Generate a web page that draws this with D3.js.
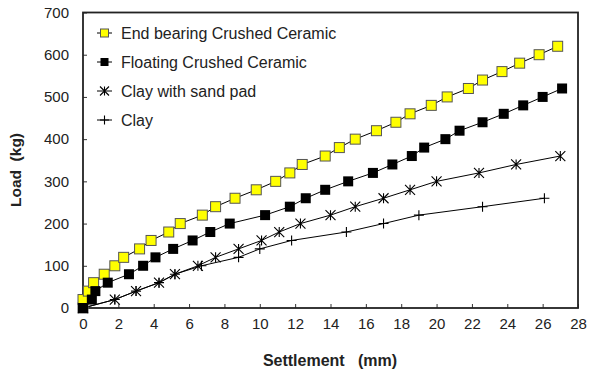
<!DOCTYPE html>
<html><head><meta charset="utf-8">
<script src="https://cdn.jsdelivr.net/npm/d3@7"></script>
<style>body{margin:0;background:#fff}svg{display:block}text{font-family:"Liberation Sans",Arial,sans-serif}</style>
</head><body><svg id="c" width="590" height="376"></svg>
<script>
const seriesNames = ["End bearing Crushed Ceramic","Floating Crushed Ceramic","Clay with sand pad","Clay"];
const endBearingX = [0,0,0.3,0.6,1.2,1.8,2.3,3.2,3.85,4.85,5.5,6.75,7.5,8.6,9.8,10.9,11.7,12.4,13.7,14.5,15.4,16.6,17.7,18.5,19.7,20.6,21.8,22.6,23.7,24.7,25.8,26.85];
const endBearingY = [0,20,40,60,80,100,120,140,160,180,200,220,240,260,280,300,320,340,360,380,400,420,440,460,480,500,520,540,560,580,600,620];
const floatingX = [0,0.5,0.7,1.4,2.6,3.4,4.1,5.1,6.2,7.2,8.3,10.3,11.7,12.6,13.7,15,16.4,17.5,18.6,19.3,20.5,21.3,22.6,23.8,24.9,26,27.1];
const floatingY = [0,20,40,60,80,100,120,140,160,180,200,220,240,260,280,300,320,340,360,380,400,420,440,460,480,500,520];
const sandPadX = [0,1.8,3,4.3,5.2,6.5,7.5,8.8,10.1,11.1,12.3,14,15.4,17,18.5,20,22.4,24.5,27];
const sandPadY = [0,20,40,60,80,100,120,140,160,180,200,220,240,260,280,300,320,340,360];
const clayX = [0,1.8,3,4.3,5.2,6.7,8.8,10,11.8,14.9,17,19,22.6,26.1];
const clayY = [0,20,40,60,80,100,120,140,160,180,200,220,240,260];
const xTicks = [0,2,4,6,8,10,12,14,16,18,20,22,24,26,28];
const yTicks = [0,100,200,300,400,500,600,700];

const svg = d3.select("#c");
const L=83,R=578,T=12.5,B=308;
const x = d3.scaleLinear().domain([0,28]).range([L,R]);
const y = d3.scaleLinear().domain([0,700]).range([B,T]);

svg.append("g").attr("transform",`translate(0,${B})`)
  .call(d3.axisBottom(x).tickValues(xTicks).tickSizeInner(-4).tickSizeOuter(0).tickPadding(10))
  .call(g=>{g.select(".domain").remove();g.selectAll("line").attr("stroke","#333");
    g.selectAll("text").attr("font-size",15).attr("fill","#222").attr("font-family","Liberation Sans, Arial");});
svg.append("g").attr("transform",`translate(${L},0)`)
  .call(d3.axisLeft(y).tickValues(yTicks).tickSizeInner(-4).tickSizeOuter(0).tickPadding(14))
  .call(g=>{g.select(".domain").remove();g.selectAll("line").attr("stroke","#333");
    g.selectAll("text").attr("font-size",15).attr("fill","#222").attr("font-family","Liberation Sans, Arial");});

svg.append("rect").attr("x",L).attr("y",T).attr("width",R-L).attr("height",B-T)
  .attr("fill","none").attr("stroke","#222").attr("stroke-width",1.8);

const line = d3.line().x(d=>x(d[0])).y(d=>y(d[1]));
const data = [
  d3.zip(endBearingX,endBearingY),
  d3.zip(floatingX,floatingY),
  d3.zip(sandPadX,sandPadY),
  d3.zip(clayX,clayY)
];

function marker(g,type,cx,cy,s){
  if(type===0){g.append("rect").attr("x",cx-s/2).attr("y",cy-s/2).attr("width",s).attr("height",s).attr("fill","#ffff00").attr("stroke","#555").attr("stroke-width",1);}
  else if(type===1){g.append("rect").attr("x",cx-s/2).attr("y",cy-s/2).attr("width",s).attr("height",s).attr("fill","#000");}
  else if(type===2){const h=s/2;
    g.append("path").attr("d",`M${cx-h},${cy-h}L${cx+h},${cy+h}M${cx-h},${cy+h}L${cx+h},${cy-h}M${cx},${cy-h}L${cx},${cy+h}`).attr("stroke","#000").attr("stroke-width",1.1).attr("fill","none");}
  else {const h=s/2;
    g.append("path").attr("d",`M${cx-h},${cy}L${cx+h},${cy}M${cx},${cy-h}L${cx},${cy+h}`).attr("stroke","#000").attr("stroke-width",1.1).attr("fill","none");}
}

const order=[3,2,0,1];
order.forEach(i=>{
  const g=svg.append("g");
  g.append("path").datum(data[i]).attr("d",line).attr("fill","none").attr("stroke","#000").attr("stroke-width",1);
  data[i].forEach(d=>marker(g,i,x(d[0]),y(d[1]),10));
});

const lg=svg.append("g");
seriesNames.forEach((n,i)=>{
  const cy=33+i*29;
  lg.append("line").attr("x1",97).attr("x2",112).attr("y1",cy).attr("y2",cy).attr("stroke","#000").attr("stroke-width",1);
  marker(lg,i,104.5,cy,i<2?8:9);
  lg.append("text").attr("x",121).attr("y",cy+6).attr("font-size",16).attr("fill","#222").text(n);
});

svg.append("text").attr("x",330).attr("y",366).attr("text-anchor","middle").attr("font-size",16).attr("font-weight","bold").attr("fill","#222").style("white-space","pre").text("Settlement   (mm)");
svg.append("text").attr("transform","translate(21,170) rotate(-90)").attr("text-anchor","middle").attr("font-size",15.5).attr("font-weight","bold").attr("fill","#222").style("white-space","pre").text("Load  (kg)");
</script></body></html>
